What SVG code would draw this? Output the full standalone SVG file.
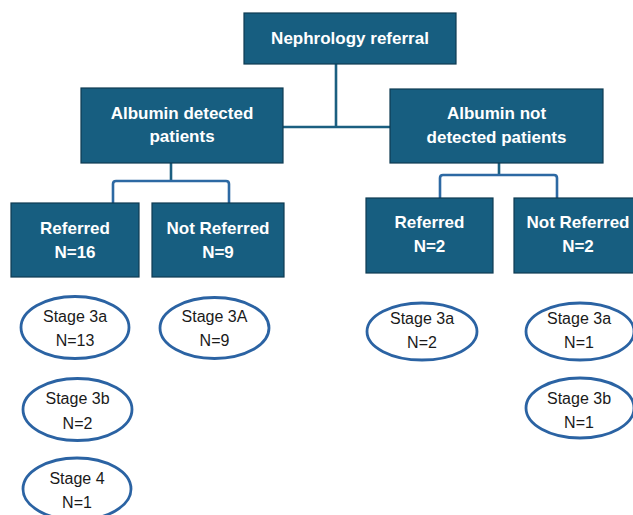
<svg xmlns="http://www.w3.org/2000/svg" width="633" height="515" viewBox="0 0 633 515">
<style>
.box{fill:#175e80;stroke:#0e3b52;stroke-width:1.2}
.bt{font-family:"Liberation Sans",Arial,sans-serif;font-weight:bold;font-size:17px;fill:#ffffff;text-anchor:middle}
.ell{fill:#ffffff;stroke:#2b63a3;stroke-width:2.8}
.et{font-family:"Liberation Sans",Arial,sans-serif;font-size:16px;fill:#1a1a1a;text-anchor:middle}
.c1{fill:none;stroke:#1b5f80;stroke-width:2.6}
.c2{fill:none;stroke:#2d69a3;stroke-width:2.6;stroke-linejoin:round}
</style>
<rect width="633" height="515" fill="#ffffff"/>
<g id="connectors">
<path class="c1" d="M336 64 V127 M283 127 H390"/>
<path class="c1" d="M171 163 V181"/>
<path class="c2" d="M113 203 V184 Q113 181 116 181 H226 Q229 181 229 184 V203"/>
<path class="c1" d="M499 163 V175"/>
<path class="c2" d="M440 198 V178 Q440 175 443 175 H554 Q557 175 557 178 V198"/>
</g>
<g id="nephrology-referral">
<rect class="box" x="244" y="13" width="212" height="51"/>
<text class="bt" x="350" y="44">Nephrology referral</text>
</g>
<g id="albumin-detected">
<rect class="box" x="81" y="88" width="202" height="75"/>
<text class="bt" x="182" y="119">Albumin detected</text>
<text class="bt" x="182" y="142">patients</text>
</g>
<g id="albumin-not-detected">
<rect class="box" x="390" y="89" width="213" height="74"/>
<text class="bt" x="496.5" y="119">Albumin not</text>
<text class="bt" x="496.5" y="143">detected patients</text>
</g>
<g id="referred-16">
<rect class="box" x="11" y="203" width="128" height="74"/>
<text class="bt" x="75" y="234">Referred</text>
<text class="bt" x="75" y="258">N=16</text>
</g>
<g id="not-referred-9">
<rect class="box" x="152" y="203" width="132" height="74"/>
<text class="bt" x="218" y="234">Not Referred</text>
<text class="bt" x="218" y="258">N=9</text>
</g>
<g id="referred-2">
<rect class="box" x="366" y="198" width="127" height="75"/>
<text class="bt" x="429.5" y="228">Referred</text>
<text class="bt" x="429.5" y="252">N=2</text>
</g>
<g id="not-referred-2">
<rect class="box" x="514" y="198" width="128" height="75"/>
<text class="bt" x="578" y="228">Not Referred</text>
<text class="bt" x="578" y="252">N=2</text>
</g>
<g id="stage3a-13">
<ellipse class="ell" cx="75" cy="327.5" rx="54" ry="31"/>
<text class="et" x="75" y="322">Stage 3a</text>
<text class="et" x="75" y="346">N=13</text>
</g>
<g id="stage3A-9">
<ellipse class="ell" cx="214.5" cy="328" rx="54.5" ry="30.5"/>
<text class="et" x="214.5" y="322">Stage 3A</text>
<text class="et" x="214.5" y="346">N=9</text>
</g>
<g id="stage3b-2">
<ellipse class="ell" cx="77.5" cy="409.5" rx="54.5" ry="31"/>
<text class="et" x="77.5" y="404">Stage 3b</text>
<text class="et" x="77.5" y="429">N=2</text>
</g>
<g id="stage4-1">
<ellipse class="ell" cx="77" cy="489" rx="54" ry="31"/>
<text class="et" x="77" y="484">Stage 4</text>
<text class="et" x="77" y="508">N=1</text>
</g>
<g id="stage3a-2">
<ellipse class="ell" cx="422" cy="331.5" rx="55" ry="28.5"/>
<text class="et" x="422" y="324">Stage 3a</text>
<text class="et" x="422" y="348">N=2</text>
</g>
<g id="stage3a-1">
<ellipse class="ell" cx="580" cy="331.5" rx="54" ry="28.5"/>
<text class="et" x="579" y="324">Stage 3a</text>
<text class="et" x="579" y="348">N=1</text>
</g>
<g id="stage3b-1">
<ellipse class="ell" cx="580" cy="408" rx="54" ry="30"/>
<text class="et" x="579" y="404">Stage 3b</text>
<text class="et" x="579" y="428">N=1</text>
</g>
</svg>
